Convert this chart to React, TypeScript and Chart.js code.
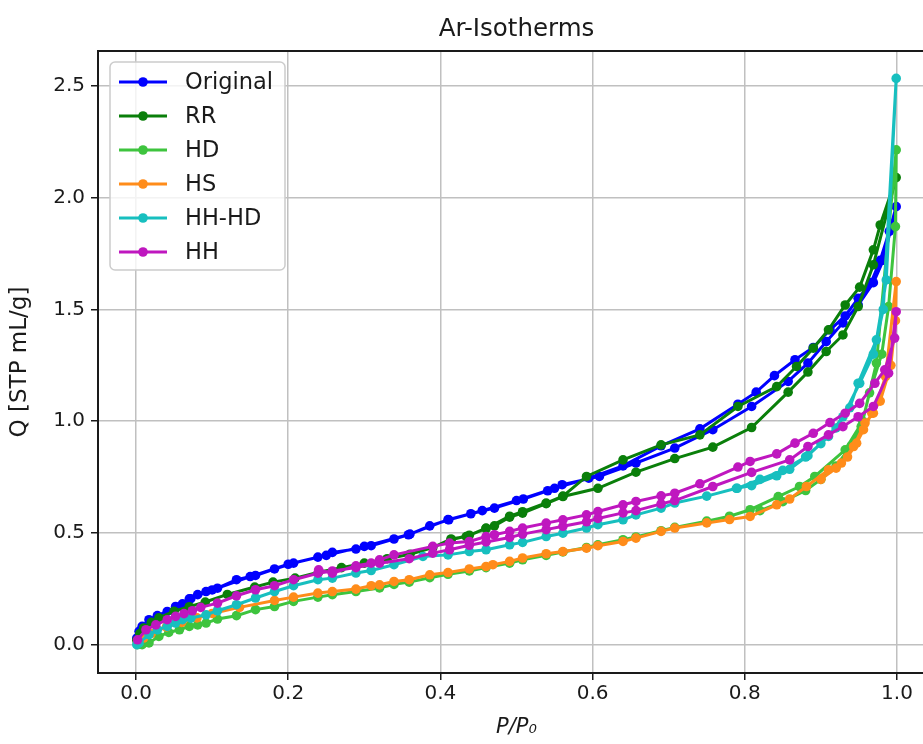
import { useEffect, useRef } from "react";
import { Chart, registerables } from "chart.js";

Chart.register(...registerables);

// Series names and colours
const seriesNames = ["Original", "RR", "HD", "HS", "HH-HD", "HH"];
const seriesColors = ["#0000ff", "#0a7f0a", "#3ec43e", "#ff8c1a", "#17bfbf", "#bf17bf"];

// Tick labels
const xTicks = [0.0, 0.2, 0.4, 0.6, 0.8, 1.0];
const yTicks = [0.0, 0.5, 1.0, 1.5, 2.0, 2.5];

// Original: adsorption then desorption branch (P/P0, Q)
const originalAdsP = [0.001, 0.004, 0.008, 0.017, 0.028, 0.041, 0.052, 0.061, 0.072, 0.081, 0.092, 0.107, 0.132, 0.157, 0.182, 0.207, 0.239, 0.258, 0.289, 0.309, 0.339, 0.358, 0.386, 0.411, 0.44, 0.471, 0.509, 0.541, 0.56, 0.609, 0.657, 0.708, 0.758, 0.809, 0.857, 0.883, 0.907, 0.929, 0.949, 0.969, 0.982, 0.999];
const originalAdsQ = [0.03, 0.06, 0.082, 0.112, 0.13, 0.149, 0.171, 0.183, 0.206, 0.224, 0.238, 0.253, 0.291, 0.31, 0.339, 0.365, 0.392, 0.413, 0.428, 0.443, 0.473, 0.492, 0.532, 0.559, 0.586, 0.611, 0.652, 0.689, 0.716, 0.753, 0.813, 0.88, 0.962, 1.066, 1.178, 1.26, 1.356, 1.44, 1.52, 1.62, 1.72, 1.96];
const originalDesP = [0.99, 0.978, 0.966, 0.949, 0.932, 0.912, 0.89, 0.866, 0.839, 0.815, 0.791, 0.741, 0.69, 0.64, 0.595, 0.55, 0.5, 0.455, 0.41, 0.36, 0.3, 0.25, 0.2, 0.15, 0.1, 0.07];
const originalDesQ = [1.85, 1.72, 1.62, 1.55, 1.471, 1.409, 1.33, 1.275, 1.204, 1.13, 1.076, 0.966, 0.89, 0.8, 0.745, 0.7, 0.645, 0.6, 0.56, 0.495, 0.44, 0.4, 0.36, 0.305, 0.245, 0.205];

// RR
const rrAdsP = [0.001, 0.005, 0.01, 0.02, 0.03, 0.05, 0.07, 0.091, 0.12, 0.156, 0.18, 0.209, 0.24, 0.27, 0.3, 0.33, 0.36, 0.39, 0.414, 0.434, 0.46, 0.471, 0.491, 0.508, 0.539, 0.561, 0.607, 0.657, 0.708, 0.758, 0.809, 0.857, 0.883, 0.907, 0.929, 0.949, 0.969, 0.999];
const rrAdsQ = [0.02, 0.05, 0.075, 0.1, 0.12, 0.15, 0.17, 0.191, 0.225, 0.258, 0.28, 0.298, 0.325, 0.345, 0.365, 0.385, 0.405, 0.435, 0.473, 0.484, 0.522, 0.532, 0.571, 0.589, 0.631, 0.663, 0.7, 0.772, 0.833, 0.884, 0.972, 1.13, 1.22, 1.312, 1.386, 1.513, 1.7, 2.09];
const rrDesP = [0.978, 0.969, 0.951, 0.932, 0.91, 0.89, 0.868, 0.842, 0.791, 0.741, 0.69, 0.64, 0.592, 0.561, 0.539, 0.508, 0.491, 0.46, 0.438, 0.414];
const rrDesQ = [1.878, 1.767, 1.6, 1.52, 1.409, 1.327, 1.245, 1.155, 1.066, 0.939, 0.894, 0.827, 0.753, 0.665, 0.634, 0.595, 0.575, 0.52, 0.49, 0.47];

// HD
const hdAdsP = [0.002, 0.008, 0.017, 0.03, 0.043, 0.057, 0.07, 0.081, 0.092, 0.107, 0.132, 0.157, 0.182, 0.207, 0.239, 0.258, 0.289, 0.32, 0.339, 0.359, 0.386, 0.41, 0.438, 0.46, 0.491, 0.508, 0.539, 0.561, 0.592, 0.607, 0.64, 0.657, 0.69, 0.708, 0.75, 0.78, 0.807, 0.844, 0.872, 0.892, 0.932, 0.955, 0.973, 0.999];
const hdAdsQ = [0.0, 0.0, 0.008, 0.037, 0.055, 0.067, 0.082, 0.089, 0.097, 0.115, 0.13, 0.157, 0.171, 0.194, 0.213, 0.224, 0.238, 0.254, 0.27, 0.28, 0.3, 0.315, 0.33, 0.345, 0.365, 0.38, 0.4, 0.415, 0.435, 0.447, 0.47, 0.482, 0.51, 0.525, 0.553, 0.575, 0.604, 0.663, 0.708, 0.753, 0.872, 1.0, 1.26, 2.214];
const hdDesP = [0.998, 0.989, 0.98, 0.964, 0.953, 0.94, 0.92, 0.9, 0.88, 0.85, 0.82];
const hdDesQ = [1.871, 1.513, 1.3, 1.127, 0.976, 0.89, 0.8, 0.74, 0.69, 0.64, 0.6];

// HS
const hsAdsP = [0.002, 0.01, 0.02, 0.04, 0.06, 0.08, 0.1, 0.136, 0.182, 0.207, 0.239, 0.258, 0.289, 0.309, 0.32, 0.339, 0.359, 0.386, 0.41, 0.438, 0.46, 0.469, 0.491, 0.508, 0.539, 0.561, 0.592, 0.607, 0.64, 0.657, 0.69, 0.708, 0.75, 0.78, 0.807, 0.842, 0.859, 0.881, 0.91, 0.927, 0.943, 0.958, 0.969, 0.985, 0.999];
const hsAdsQ = [0.01, 0.03, 0.05, 0.08, 0.1, 0.12, 0.14, 0.167, 0.198, 0.213, 0.231, 0.238, 0.249, 0.264, 0.268, 0.283, 0.291, 0.313, 0.323, 0.339, 0.35, 0.358, 0.373, 0.388, 0.407, 0.417, 0.432, 0.443, 0.462, 0.477, 0.507, 0.522, 0.545, 0.56, 0.574, 0.626, 0.652, 0.708, 0.783, 0.813, 0.887, 0.992, 1.036, 1.2, 1.625];
const hsDesP = [0.998, 0.992, 0.978, 0.967, 0.956, 0.947, 0.935, 0.92, 0.9];
const hsDesQ = [1.45, 1.25, 1.09, 1.036, 0.962, 0.902, 0.84, 0.79, 0.74];

// HH-HD
const hhhdAdsP = [0.001, 0.004, 0.017, 0.028, 0.041, 0.052, 0.061, 0.072, 0.092, 0.107, 0.132, 0.157, 0.182, 0.207, 0.239, 0.258, 0.289, 0.309, 0.339, 0.377, 0.41, 0.438, 0.46, 0.491, 0.508, 0.539, 0.561, 0.592, 0.607, 0.64, 0.657, 0.69, 0.708, 0.75, 0.789, 0.809, 0.842, 0.859, 0.883, 0.91, 0.929, 0.951, 0.969, 0.982, 0.999];
const hhhdAdsQ = [0.0, 0.008, 0.045, 0.067, 0.082, 0.097, 0.112, 0.119, 0.134, 0.152, 0.179, 0.209, 0.238, 0.264, 0.291, 0.298, 0.321, 0.332, 0.358, 0.395, 0.402, 0.417, 0.425, 0.447, 0.458, 0.484, 0.499, 0.522, 0.537, 0.559, 0.581, 0.611, 0.634, 0.665, 0.7, 0.712, 0.756, 0.785, 0.846, 0.932, 1.02, 1.17, 1.3, 1.5, 2.534];
const hhhdDesP = [0.986, 0.973, 0.949, 0.938, 0.92, 0.9, 0.88, 0.85, 0.82, 0.79];
const hhhdDesQ = [1.632, 1.364, 1.17, 1.06, 0.97, 0.9, 0.84, 0.78, 0.74, 0.7];

// HH
const hhAdsP = [0.002, 0.013, 0.026, 0.041, 0.052, 0.063, 0.074, 0.085, 0.107, 0.132, 0.157, 0.182, 0.207, 0.239, 0.258, 0.289, 0.32, 0.359, 0.39, 0.412, 0.438, 0.46, 0.491, 0.508, 0.539, 0.561, 0.592, 0.607, 0.64, 0.657, 0.69, 0.708, 0.758, 0.809, 0.859, 0.883, 0.91, 0.929, 0.949, 0.969, 0.989, 0.999];
const hhAdsQ = [0.022, 0.067, 0.089, 0.112, 0.127, 0.139, 0.152, 0.167, 0.186, 0.219, 0.246, 0.264, 0.291, 0.32, 0.33, 0.345, 0.365, 0.385, 0.41, 0.425, 0.445, 0.46, 0.48, 0.495, 0.515, 0.53, 0.55, 0.565, 0.59, 0.6, 0.63, 0.645, 0.708, 0.771, 0.827, 0.887, 0.939, 0.976, 1.02, 1.066, 1.215, 1.49];
const hhDesP = [0.997, 0.984, 0.971, 0.951, 0.932, 0.912, 0.89, 0.866, 0.842, 0.807, 0.791, 0.741, 0.708, 0.69, 0.657, 0.64, 0.607, 0.592, 0.561, 0.539, 0.508, 0.491, 0.471, 0.46, 0.438, 0.412, 0.39, 0.339, 0.32, 0.309, 0.289, 0.258, 0.24];
const hhDesQ = [1.372, 1.23, 1.17, 1.08, 1.036, 0.994, 0.946, 0.902, 0.854, 0.82, 0.795, 0.72, 0.678, 0.666, 0.641, 0.626, 0.596, 0.581, 0.559, 0.544, 0.522, 0.507, 0.492, 0.484, 0.462, 0.455, 0.44, 0.402, 0.38, 0.365, 0.353, 0.32, 0.335];

const branches: [number[], number[], number[], number[]][] = [
  [originalAdsP, originalAdsQ, originalDesP, originalDesQ],
  [rrAdsP, rrAdsQ, rrDesP, rrDesQ],
  [hdAdsP, hdAdsQ, hdDesP, hdDesQ],
  [hsAdsP, hsAdsQ, hsDesP, hsDesQ],
  [hhhdAdsP, hhhdAdsQ, hhhdDesP, hhhdDesQ],
  [hhAdsP, hhAdsQ, hhDesP, hhDesQ],
];

const FONT = "'DejaVu Sans', sans-serif";
const INK = "#1a1a1a";

function toPoints(p: number[], q: number[]) {
  return p.map((x, i) => ({ x, y: q[i] }));
}

// Axes frame drawn over the data, like matplotlib spines
const framePlugin = {
  id: "frame",
  afterDatasetsDraw(chart: any) {
    const { ctx, chartArea } = chart;
    ctx.save();
    ctx.strokeStyle = INK;
    ctx.lineWidth = 2;
    ctx.strokeRect(chartArea.left, chartArea.top, chartArea.right - chartArea.left, chartArea.bottom - chartArea.top);
    ctx.restore();
  },
};

// Legend box in the upper-left corner of the plot area
const legendPlugin = {
  id: "isoLegend",
  afterDraw(chart: any) {
    const { ctx, chartArea } = chart;
    const x0 = chartArea.left + 12;
    const y0 = chartArea.top + 11;
    const w = 175;
    const h = 208;
    ctx.save();
    ctx.beginPath();
    ctx.roundRect(x0, y0, w, h, 5);
    ctx.fillStyle = "rgba(255,255,255,0.8)";
    ctx.fill();
    ctx.strokeStyle = "#cccccc";
    ctx.lineWidth = 1.5;
    ctx.stroke();
    chart.data.datasets.forEach((ds: any, i: number) => {
      const y = y0 + 20 + 34 * i;
      ctx.strokeStyle = ds.borderColor;
      ctx.lineWidth = 3;
      ctx.beginPath();
      ctx.moveTo(x0 + 9, y);
      ctx.lineTo(x0 + 57, y);
      ctx.stroke();
      ctx.fillStyle = ds.borderColor;
      ctx.beginPath();
      ctx.arc(x0 + 33, y, 4.8, 0, Math.PI * 2);
      ctx.fill();
      ctx.fillStyle = INK;
      ctx.font = `22.5px ${FONT}`;
      ctx.textAlign = "left";
      ctx.textBaseline = "middle";
      ctx.fillText(ds.label, x0 + 75, y + 1);
    });
    ctx.restore();
  },
};

export default function App() {
  const canvasRef = useRef<HTMLCanvasElement | null>(null);

  useEffect(() => {
    if (!canvasRef.current) return;
    const datasets = seriesNames.map((name, i) => {
      const [aP, aQ, dP, dQ] = branches[i];
      return {
        label: name,
        data: [...toPoints(aP, aQ), ...toPoints(dP, dQ)],
        borderColor: seriesColors[i],
        backgroundColor: seriesColors[i],
        borderWidth: 3,
        pointRadius: 4.8,
        pointBorderWidth: 0,
        pointHoverRadius: 4.8,
        tension: 0,
        order: seriesNames.length - i,
      };
    });

    const chart = new Chart(canvasRef.current, {
      type: "line",
      data: { datasets },
      plugins: [framePlugin, legendPlugin],
      options: {
        animation: false,
        responsive: true,
        maintainAspectRatio: false,
        layout: { padding: { left: 0, right: 98, top: 0, bottom: 0 } },
        plugins: {
          legend: { display: false },
          tooltip: { enabled: false },
          title: {
            display: true,
            fullSize: false,
            text: "Ar-Isotherms",
            color: INK,
            font: { family: FONT, size: 24.5, weight: "normal" },
            padding: { top: 15, bottom: 6.6 },
          },
        },
        scales: {
          x: {
            type: "linear",
            min: -0.05,
            max: 1.05,
            afterBuildTicks: (scale: any) => {
              scale.ticks = xTicks.map((v) => ({ value: v }));
            },
            afterFit: (scale: any) => {
              scale.height = 71;
            },
            ticks: {
              color: INK,
              font: { family: FONT, size: 20 },
              padding: 2,
              callback: (v: any) => Number(v).toFixed(1),
            },
            grid: {
              color: "#c0c0c0",
              lineWidth: 1.5,
              tickLength: 7,
              tickColor: INK,
              tickWidth: 1.5,
            },
            border: { display: false },
            title: {
              display: true,
              text: "P/P₀",
              color: INK,
              font: { family: FONT, size: 21, style: "italic" },
              padding: { top: 0, bottom: 4 },
            },
          },
          y: {
            type: "linear",
            min: -0.1265,
            max: 2.6565,
            afterBuildTicks: (scale: any) => {
              scale.ticks = yTicks.map((v) => ({ value: v }));
            },
            afterFit: (scale: any) => {
              scale.width = 98;
            },
            ticks: {
              color: INK,
              font: { family: FONT, size: 20 },
              padding: 6,
              callback: (v: any) => Number(v).toFixed(1),
            },
            grid: {
              color: "#c0c0c0",
              lineWidth: 1.5,
              tickLength: 7,
              tickColor: INK,
              tickWidth: 1.5,
            },
            border: { display: false },
            title: {
              display: true,
              text: "Q [STP mL/g]",
              color: INK,
              font: { family: FONT, size: 23 },
              padding: { top: 6, bottom: 0 },
            },
          },
        },
      },
    });
    return () => chart.destroy();
  }, []);

  return (
    <div style={{ position: "fixed", left: 0, top: 0, width: 923, height: 744, overflow: "hidden", background: "#fff" }}>
      <div style={{ position: "relative", width: 1033, height: 744 }}>
        <canvas ref={canvasRef} />
      </div>
    </div>
  );
}
